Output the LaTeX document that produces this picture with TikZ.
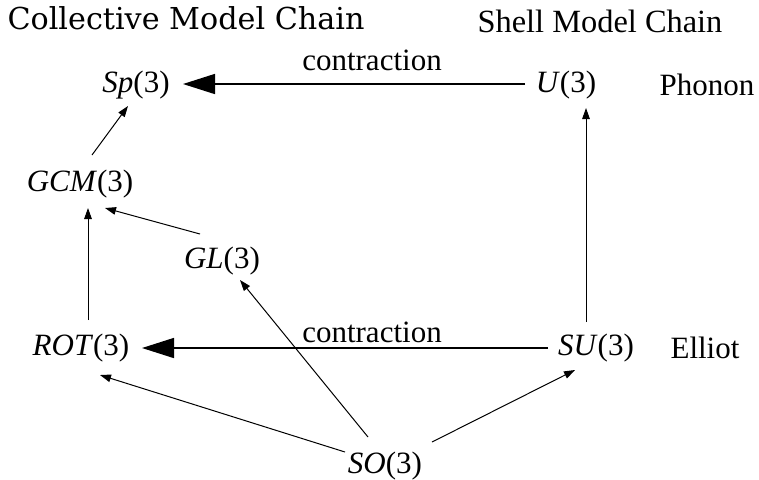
\documentclass[tikz,border=0pt]{standalone}
\usepackage{fontspec}
\setmainfont{Liberation Serif}
\newfontfamily\titlefont{DejaVu Serif}
\usetikzlibrary{arrows.meta}
\begin{document}
\begin{tikzpicture}[x=0.5pt,y=-0.5pt,
  lbl/.style={inner sep=0pt,font=\fontsize{15.5pt}{18pt}\selectfont},
  grp/.style={lbl},
  sm/.style={line width=0.5pt,-{Triangle[length=5.5pt,width=3.8pt]}},
  big/.style={line width=0.75pt,-{Triangle[length=16pt,width=10pt]}}]
\useasboundingbox (0,0) rectangle (759,479);
\node[lbl,font=\titlefont\fontsize{15.1pt}{17pt}\selectfont] (t1) at (186,18) {Collective Model Chain};
\node[lbl,font=\fontsize{16.2pt}{18pt}\selectfont] (t2) at (600,21) {Shell Model Chain};
\node[grp] (sp) at (136,85) {\textit{Sp}(3)};
\node[grp] (u) at (566,85) {\textit{U}(3)};
\node[lbl] (phonon) at (707,85) {Phonon};
\node[grp] (gcm) at (80,184) {\textit{GCM}(3)};
\node[grp] (gl) at (222,261) {\textit{GL}(3)};
\node[grp] (rot) at (81,348) {\textit{ROT}(3)};
\node[grp] (su) at (596,348) {\textit{SU}(3)};
\node[lbl] (elliot) at (705,348) {Elliot};
\node[grp] (so) at (385,466) {\textit{SO}(3)};
\node[lbl] (c1) at (372,60) {contraction};
\node[lbl] (c2) at (372,332) {contraction};
\draw[big] ([shift={(-41,-1)}]u.center) -- ([shift={(47,-1)}]sp.center);
\draw[big] ([shift={(-48,0)}]su.center) -- ([shift={(61,0)}]rot.center);
\draw[sm] ([shift={(12,-29)}]gcm.center) -- ([shift={(-8,21)}]sp.center);
\draw[sm] ([shift={(-22,-27)}]gl.center) -- ([shift={(25,24)}]gcm.center);
\draw[sm] ([shift={(7,-28)}]rot.center) -- ([shift={(8,24)}]gcm.center);
\draw[sm] ([shift={(-10,-26)}]su.center) -- ([shift={(20,23)}]u.center);
\draw[sm] ([shift={(-40,-14)}]so.center) -- ([shift={(19,27)}]rot.center);
\draw[sm] ([shift={(-17,-29)}]so.center) -- ([shift={(18,19)}]gl.center);
\draw[sm] ([shift={(47,-24)}]so.center) -- ([shift={(-21,22)}]su.center);
\end{tikzpicture}
\end{document}
